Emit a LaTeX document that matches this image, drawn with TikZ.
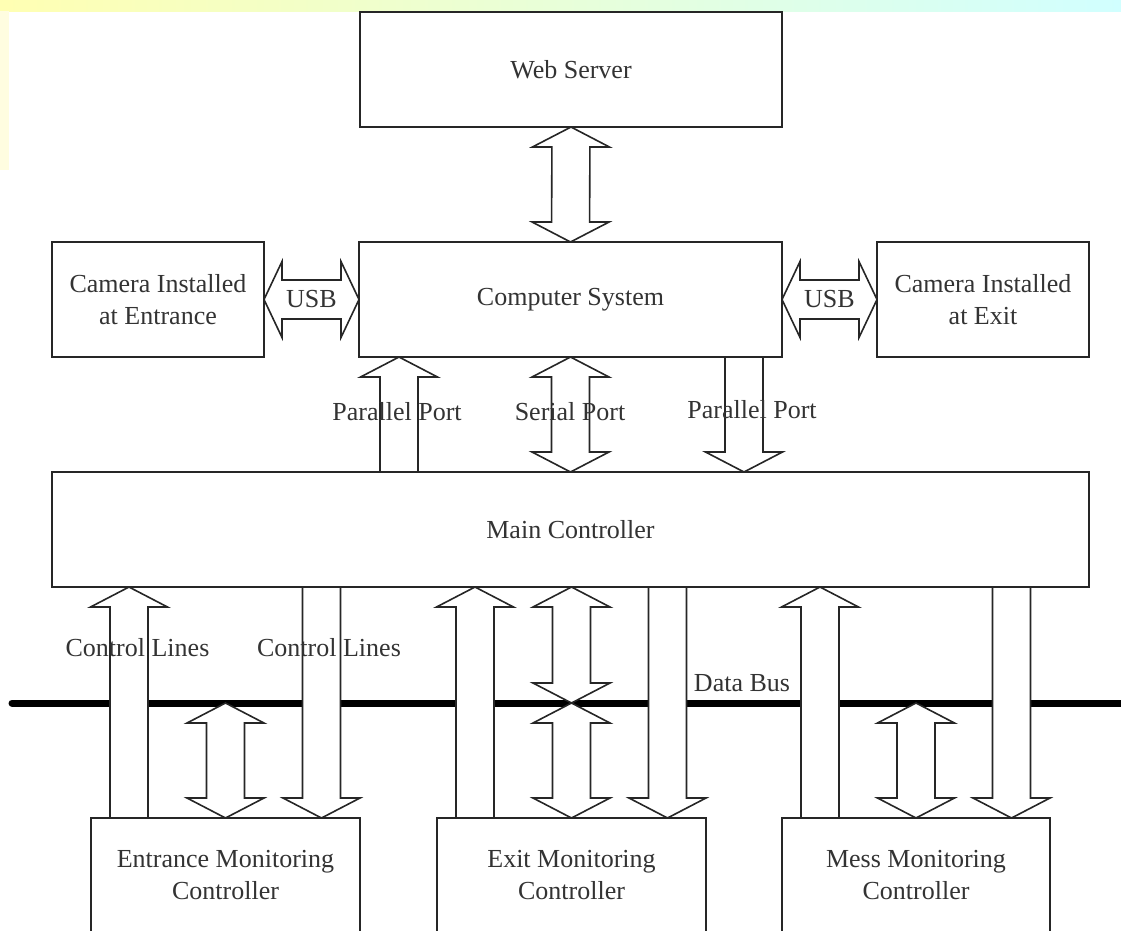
\documentclass[tikz,border=0pt]{standalone}
\usepackage{fontspec}
\setmainfont{Liberation Serif}
\usetikzlibrary{calc, positioning}

\tikzset{
  box/.style={draw=black!85, line width=1.8pt, fill=white, minimum height=115pt,
    align=center, outer sep=0pt, inner sep=2pt, text=black!80,
    font=\fontsize{26}{32}\selectfont},
  lbl/.style={text=black!80, inner sep=0pt, font=\fontsize{26}{32}\selectfont},
  bus/.style={line width=7pt, line cap=round, black},
  blockarr/.style={draw=black!85, line width=1.6pt, fill=white, line join=miter},
  % fat arrow, head at the target end
  vone/.style={blockarr, to path={
    ($(\tikztostart)+(-19,0)$) -- ($(\tikztotarget)!20pt!(\tikztostart)+(-19,0)$)
    -- ($(\tikztotarget)!20pt!(\tikztostart)+(-38.5,0)$) -- (\tikztotarget)
    -- ($(\tikztotarget)!20pt!(\tikztostart)+(38.5,0)$)
    -- ($(\tikztotarget)!20pt!(\tikztostart)+(19,0)$)
    -- ($(\tikztostart)+(19,0)$) -- cycle}},
  % fat arrow, heads at both ends
  vtwo/.style={blockarr, to path={
    (\tikztostart) -- ($(\tikztostart)!20pt!(\tikztotarget)+(38.5,0)$)
    -- ($(\tikztostart)!20pt!(\tikztotarget)+(19,0)$)
    -- ($(\tikztotarget)!20pt!(\tikztostart)+(19,0)$)
    -- ($(\tikztotarget)!20pt!(\tikztostart)+(38.5,0)$) -- (\tikztotarget)
    -- ($(\tikztotarget)!20pt!(\tikztostart)+(-38.5,0)$)
    -- ($(\tikztotarget)!20pt!(\tikztostart)+(-19,0)$)
    -- ($(\tikztostart)!20pt!(\tikztotarget)+(-19,0)$)
    -- ($(\tikztostart)!20pt!(\tikztotarget)+(-38.5,0)$) -- cycle}},
  htwo/.style={blockarr, to path={
    (\tikztostart) -- ($(\tikztostart)!18pt!(\tikztotarget)+(0,38)$)
    -- ($(\tikztostart)!18pt!(\tikztotarget)+(0,19.5)$)
    -- ($(\tikztotarget)!18pt!(\tikztostart)+(0,19.5)$)
    -- ($(\tikztotarget)!18pt!(\tikztostart)+(0,38)$) -- (\tikztotarget)
    -- ($(\tikztotarget)!18pt!(\tikztostart)+(0,-38)$)
    -- ($(\tikztotarget)!18pt!(\tikztostart)+(0,-19.5)$)
    -- ($(\tikztostart)!18pt!(\tikztotarget)+(0,-19.5)$)
    -- ($(\tikztostart)!18pt!(\tikztotarget)+(0,-38)$) -- cycle}}
}

\begin{document}
\begin{tikzpicture}[x=1pt, y=-1pt]
  \useasboundingbox (0,0) rectangle (1121,930);
  \clip (0,0) rectangle (1121,930);

  % faded watermark along the top
  \shade[left color=yellow!30, middle color=white, right color=cyan!18] (0,0) rectangle (1121,11);
  \fill[yellow!12] (0,11) rectangle (9,170);

  % blocks
  \node[box, minimum width=422pt] (ws) at (571,69.5) {Web Server};
  \node[box, minimum width=423pt] (cs) at (570.5,299.5) {Computer System};
  \node[box, minimum width=212pt, left=95pt of cs] (camL) {Camera Installed\\at Entrance};
  \node[box, minimum width=212pt, right=95pt of cs] (camR) {Camera Installed\\at Exit};
  \node[box, minimum width=1037pt] (mc) at (570.5,529.5) {Main Controller};
  \node[box, minimum width=269pt] (ent) at (225.5,875.5) {Entrance Monitoring\\Controller};
  \node[box, minimum width=269pt] (ext) at (571.5,875.5) {Exit Monitoring\\Controller};
  \node[box, minimum width=268pt] (mes) at (916,875.5) {Mess Monitoring\\Controller};

  % data bus
  \coordinate (busL) at (12,703);
  \coordinate (busR) at (1130,703);
  \draw[bus] (busL) -- (busR);

  % upper links
  \draw[vtwo] (ws.south) to (cs.north);
  \draw[htwo] (camL.east) to (cs.west);
  \draw[htwo] (cs.east) to (camR.west);
  \coordinate (ppL) at ($(cs.south west)+(40,0)$);
  \coordinate (ppR) at ($(cs.south east)+(-38,0)$);
  \draw[vone] (mc.north -| ppL) to (ppL);
  \draw[vtwo] (cs.south) to (mc.north);
  \draw[vone] (ppR) to (mc.north -| ppR);

  % lower links, one set per monitoring controller
  \foreach \c in {ent, ext, mes} {
    \coordinate (\c up) at ($(\c.north west)+(38,0)$);
    \coordinate (\c dn) at ($(\c.north east)+(-38.5,0)$);
    \draw[vone] (\c up) to (mc.south -| \c up);
    \draw[vtwo] (busL -| \c.north) to (\c.north);
    \draw[vone] (mc.south -| \c dn) to (\c dn);
  }
  \draw[vtwo] (mc.south -| ext.north) to (busL -| ext.north);

  % labels
  \node[lbl] (usbL) at ($(camL.east)!0.5!(cs.west)$) {USB};
  \node[lbl] (usbR) at ($(cs.east)!0.5!(camR.west)$) {USB};
  \node[lbl] (parL) at (397,412) {Parallel Port};
  \node[lbl] (ser) at (570,412) {Serial Port};
  \node[lbl] (parR) at (752,410) {Parallel Port};
  \node[lbl] (ctlA) at (137.5,648) {Control Lines};
  \node[lbl] (ctlB) at (329,648) {Control Lines};
  \node[lbl] (dbus) at (742,683) {Data Bus};
\end{tikzpicture}
\end{document}
